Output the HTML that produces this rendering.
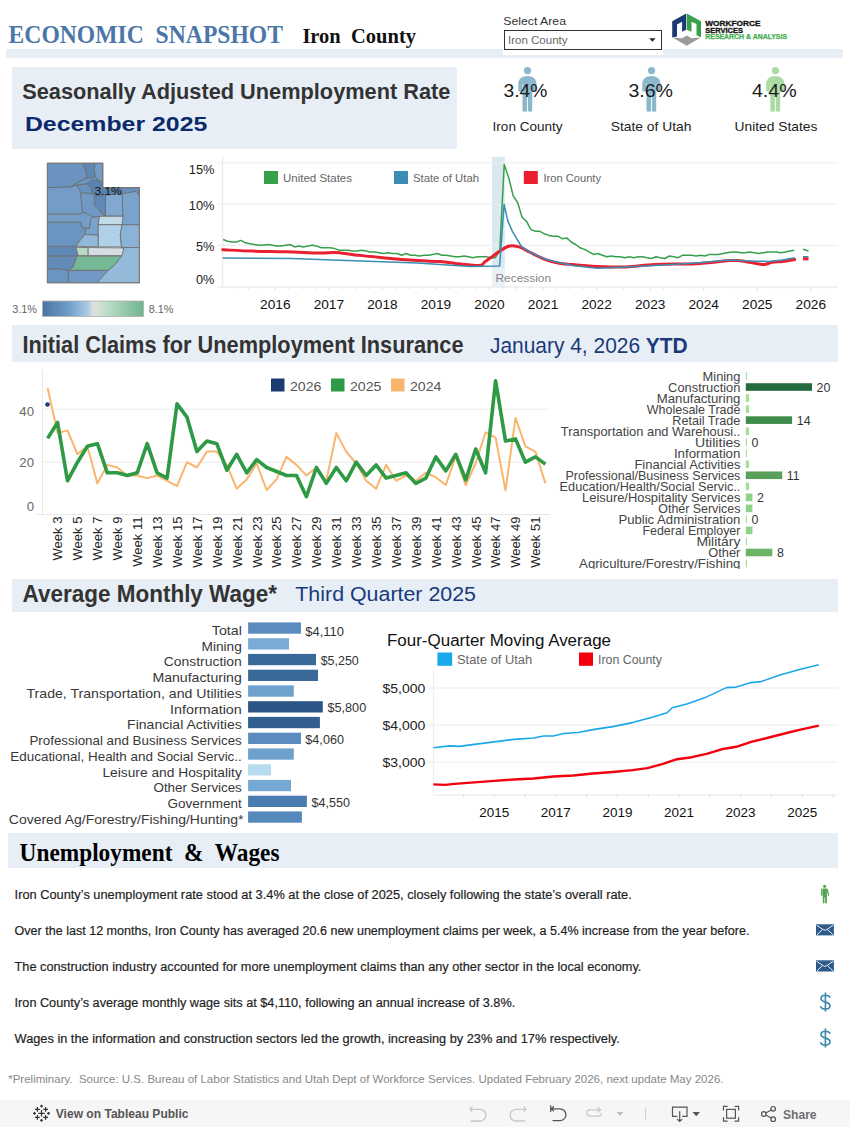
<!DOCTYPE html>
<html><head><meta charset="utf-8">
<style>
*{margin:0;padding:0}
html,body{width:850px;height:1127px;overflow:hidden;background:#fff;font-family:"Liberation Sans",sans-serif}
svg{position:absolute;left:0;top:0;display:block}
</style></head><body>
<svg width="850" height="1127" viewBox="0 0 850 1127">
<rect x="0" y="0" width="850" height="1127" fill="#ffffff" />
<text x="8.6" y="43" font-family="'Liberation Serif', serif" font-size="24.2" fill="#4a77a8" font-weight="bold" text-anchor="start" textLength="274.4" lengthAdjust="spacingAndGlyphs" xml:space="preserve">ECONOMIC  SNAPSHOT</text>
<text x="302.4" y="43" font-family="'Liberation Serif', serif" font-size="21.7" fill="#111111" font-weight="bold" text-anchor="start" textLength="113.6" lengthAdjust="spacingAndGlyphs" xml:space="preserve">Iron  County</text>
<rect x="6" y="49" width="837" height="9" fill="#e7eef6" />
<rect x="503" y="49" width="160" height="6" fill="#ffffff" />
<text x="503.2" y="24.9" font-family="'Liberation Sans', sans-serif" font-size="11.6" fill="#333333" font-weight="normal" text-anchor="start" textLength="62.8" lengthAdjust="spacingAndGlyphs" >Select Area</text>
<rect x="504.5" y="30.5" width="157" height="19" fill="#ffffff" stroke="#333" stroke-width="1"/>
<text x="508" y="44" font-family="'Liberation Sans', sans-serif" font-size="11.5" fill="#666666" font-weight="normal" text-anchor="start" textLength="59.5" lengthAdjust="spacingAndGlyphs" >Iron County</text>
<path d="M649.2 38.3 L655.6 38.3 L652.4 41.8 Z" stroke="none" stroke-width="0" fill="#222" />
<g transform="translate(668,10)"><polygon points="4.2,11.3 18.2,3.5 18.2,19.8 14.1,21.8 14.1,11.8 9,14.5 9,26.5 4.2,27.5" fill="#1b3a73"/><polygon points="18.8,3.5 33,11.3 33,27.3 28.5,25.3 28.5,14 23.5,11.8 23.5,21.8 18.8,19.8" fill="#37a04a"/><polygon points="4.5,27.6 14.1,28.2 18.8,25.4 23.5,28.2 32.7,27.6 18.8,35.8" fill="#9b9b9b"/></g>
<text x="705.3" y="25.9" font-family="'Liberation Sans', sans-serif" font-size="7.2" fill="#111111" font-weight="bold" text-anchor="start" textLength="55.3" lengthAdjust="spacingAndGlyphs" stroke="#111" stroke-width="0.3">WORKFORCE</text>
<text x="705.3" y="32.6" font-family="'Liberation Sans', sans-serif" font-size="7.2" fill="#111111" font-weight="bold" text-anchor="start" textLength="37.7" lengthAdjust="spacingAndGlyphs" stroke="#111" stroke-width="0.3">SERVICES</text>
<text x="705.3" y="39.3" font-family="'Liberation Sans', sans-serif" font-size="7.0" fill="#3fae4f" font-weight="bold" text-anchor="start" textLength="81.7" lengthAdjust="spacingAndGlyphs" stroke="#3fae4f" stroke-width="0.25">RESEARCH &amp; ANALYSIS</text>
<rect x="12" y="67" width="445" height="82" fill="#e7eef6" />
<text x="22.2" y="99" font-family="'Liberation Sans', sans-serif" font-size="21.9" fill="#333333" font-weight="bold" text-anchor="start" textLength="428.2" lengthAdjust="spacingAndGlyphs" >Seasonally Adjusted Unemployment Rate</text>
<text x="24.9" y="131" font-family="'Liberation Sans', sans-serif" font-size="21" fill="#0c2a6a" font-weight="bold" text-anchor="start" textLength="182.4" lengthAdjust="spacingAndGlyphs" >December 2025</text>
<g fill="#8cb8cd"><circle cx="527.55" cy="70.6" r="3.6"/><path d="M518.25 90.2 V84 C518.25 79 522.15 76.1 527.4 76.1 C532.65 76.1 536.55 79 536.55 84 V90.2 Q536.55 91.4 535.35 91.4 H532.25 V110.3 Q532.25 111.8 530.15 111.8 Q527.95 111.8 527.95 110.3 V94 H527.05 V110.3 Q527.05 111.8 524.75 111.8 Q522.45 111.8 522.45 110.3 V91.4 H519.45 Q518.25 91.4 518.25 90.2 Z"/><path d="M522.45 83.5 V91.4 M532.25 83.5 V91.4" stroke="#ffffff" stroke-width="0.5" stroke-opacity="0.7"/></g>
<g fill="#8cb8cd"><circle cx="651.55" cy="70.6" r="3.6"/><path d="M642.25 90.2 V84 C642.25 79 646.15 76.1 651.4 76.1 C656.65 76.1 660.55 79 660.55 84 V90.2 Q660.55 91.4 659.35 91.4 H656.25 V110.3 Q656.25 111.8 654.15 111.8 Q651.95 111.8 651.95 110.3 V94 H651.05 V110.3 Q651.05 111.8 648.75 111.8 Q646.45 111.8 646.45 110.3 V91.4 H643.45 Q642.25 91.4 642.25 90.2 Z"/><path d="M646.45 83.5 V91.4 M656.25 83.5 V91.4" stroke="#ffffff" stroke-width="0.5" stroke-opacity="0.7"/></g>
<g fill="#a9dca4"><circle cx="775.45" cy="70.6" r="3.6"/><path d="M766.15 90.2 V84 C766.15 79 770.05 76.1 775.3 76.1 C780.55 76.1 784.45 79 784.45 84 V90.2 Q784.45 91.4 783.25 91.4 H780.15 V110.3 Q780.15 111.8 778.05 111.8 Q775.85 111.8 775.85 110.3 V94 H774.95 V110.3 Q774.95 111.8 772.65 111.8 Q770.35 111.8 770.35 110.3 V91.4 H767.35 Q766.15 91.4 766.15 90.2 Z"/><path d="M770.35 83.5 V91.4 M780.15 83.5 V91.4" stroke="#ffffff" stroke-width="0.5" stroke-opacity="0.7"/></g>
<text x="525.5" y="97" font-family="'Liberation Sans', sans-serif" font-size="18.9" fill="#1a1a1a" font-weight="normal" text-anchor="middle" textLength="43.8" lengthAdjust="spacingAndGlyphs" >3.4%</text>
<text x="650.7" y="97" font-family="'Liberation Sans', sans-serif" font-size="18.9" fill="#1a1a1a" font-weight="normal" text-anchor="middle" textLength="44.6" lengthAdjust="spacingAndGlyphs" >3.6%</text>
<text x="774.3" y="97" font-family="'Liberation Sans', sans-serif" font-size="18.9" fill="#1a1a1a" font-weight="normal" text-anchor="middle" textLength="44.7" lengthAdjust="spacingAndGlyphs" >4.4%</text>
<text x="527.6" y="131" font-family="'Liberation Sans', sans-serif" font-size="12.6" fill="#222222" font-weight="normal" text-anchor="middle" textLength="70" lengthAdjust="spacingAndGlyphs" >Iron County</text>
<text x="651.1" y="131" font-family="'Liberation Sans', sans-serif" font-size="12.6" fill="#222222" font-weight="normal" text-anchor="middle" textLength="80.7" lengthAdjust="spacingAndGlyphs" >State of Utah</text>
<text x="775.9" y="131" font-family="'Liberation Sans', sans-serif" font-size="12.6" fill="#222222" font-weight="normal" text-anchor="middle" textLength="82.8" lengthAdjust="spacingAndGlyphs" >United States</text>
<rect x="12" y="325" width="826" height="37" fill="#e7eef6" />
<rect x="12" y="579" width="826" height="33" fill="#e7eef6" />
<rect x="8" y="833" width="830" height="35" fill="#e7eef6" />
<rect x="0" y="1100" width="850" height="27" fill="#f6f6f6" />
<g transform="translate(40,158) scale(0.12353)">
<polygon points="60,42 350,42 380,130 370,165 300,200 250,235 60,240" fill="#6a93c0" stroke="#6e6e6e" stroke-width="7" stroke-linejoin="round"/>
<polygon points="350,42 445,42 440,100 450,150 400,165 370,165 380,130" fill="#5d87b6" stroke="#6e6e6e" stroke-width="7" stroke-linejoin="round"/>
<polygon points="445,42 508,42 508,200 470,180 450,150 440,100" fill="#729cc6" stroke="#6e6e6e" stroke-width="7" stroke-linejoin="round"/>
<polygon points="250,235 300,200 370,165 400,165 450,150 470,180 420,180 380,210 300,220" fill="#6b95c1" stroke="#6e6e6e" stroke-width="7" stroke-linejoin="round"/>
<polygon points="60,240 250,235 300,220 330,280 335,340 345,440 320,455 60,455" fill="#739cc7" stroke="#6e6e6e" stroke-width="7" stroke-linejoin="round"/>
<polygon points="300,220 380,210 420,240 420,290 330,280" fill="#6892bf" stroke="#6e6e6e" stroke-width="7" stroke-linejoin="round"/>
<polygon points="420,180 470,180 508,200 508,240 665,240 665,290 530,300 440,310 420,290 420,240 380,210" fill="#5a83b2" stroke="#6e6e6e" stroke-width="7" stroke-linejoin="round"/>
<polygon points="665,240 805,240 805,310 780,270 665,290" fill="#6890bd" stroke="#6e6e6e" stroke-width="7" stroke-linejoin="round"/>
<polygon points="665,290 780,270 805,310 805,540 665,540 670,470" fill="#7aa3cb" stroke="#6e6e6e" stroke-width="7" stroke-linejoin="round"/>
<polygon points="530,300 665,290 670,470 530,470" fill="#80a8d0" stroke="#6e6e6e" stroke-width="7" stroke-linejoin="round"/>
<polygon points="440,310 530,300 530,470 500,450 440,380" fill="#5f89b8" stroke="#6e6e6e" stroke-width="7" stroke-linejoin="round"/>
<polygon points="330,280 420,290 440,310 440,380 500,450 530,470 430,480 390,455 345,440 335,340" fill="#7099c5" stroke="#6e6e6e" stroke-width="7" stroke-linejoin="round"/>
<polygon points="60,455 320,455 345,440 390,455 430,480 410,500 400,570 340,560 330,520 60,520" fill="#749dc8" stroke="#6e6e6e" stroke-width="7" stroke-linejoin="round"/>
<polygon points="480,472 672,472 665,540 470,540" fill="#c4dcea" stroke="#6e6e6e" stroke-width="7" stroke-linejoin="round"/>
<polygon points="470,540 665,540 650,620 660,720 470,720" fill="#b0d0e8" stroke="#6e6e6e" stroke-width="7" stroke-linejoin="round"/>
<polygon points="665,540 805,540 805,725 660,725 650,620" fill="#8bb3d7" stroke="#6e6e6e" stroke-width="7" stroke-linejoin="round"/>
<polygon points="430,480 480,472 470,540 470,625 365,620 370,570 400,570 410,500" fill="#7aa3cc" stroke="#6e6e6e" stroke-width="7" stroke-linejoin="round"/>
<polygon points="60,520 330,520 340,560 370,570 365,620 330,660 290,715 60,715" fill="#6b95c1" stroke="#6e6e6e" stroke-width="7" stroke-linejoin="round"/>
<polygon points="365,620 470,625 470,720 290,715 330,660" fill="#93b8da" stroke="#6e6e6e" stroke-width="7" stroke-linejoin="round"/>
<polygon points="60,715 290,715 310,795 60,795" fill="#5f88b6" stroke="#6e6e6e" stroke-width="7" stroke-linejoin="round"/>
<polygon points="290,725 390,725 390,790 310,790" fill="#b8d9c2" stroke="#6e6e6e" stroke-width="7" stroke-linejoin="round"/>
<polygon points="390,725 680,728 670,790 390,790" fill="#d5dee5" stroke="#6e6e6e" stroke-width="7" stroke-linejoin="round"/>
<polygon points="60,795 300,795 270,880 230,910 150,900 60,900" fill="#628bb8" stroke="#6e6e6e" stroke-width="7" stroke-linejoin="round"/>
<polygon points="300,795 660,795 600,870 550,910 230,910 270,880" fill="#74b896" stroke="#6e6e6e" stroke-width="7" stroke-linejoin="round"/>
<polygon points="660,725 805,725 805,1010 460,1010 550,910 600,870 660,795 680,728" fill="#93bad9" stroke="#6e6e6e" stroke-width="7" stroke-linejoin="round"/>
<polygon points="60,900 150,900 230,910 230,1010 60,1010" fill="#6b95c1" stroke="#6e6e6e" stroke-width="7" stroke-linejoin="round"/>
<polygon points="230,910 550,910 460,1010 230,1010" fill="#709ac5" stroke="#6e6e6e" stroke-width="7" stroke-linejoin="round"/>
<polygon points="60,42 508,42 508,240 805,240 805,1010 60,1010" fill="none" stroke="#777" stroke-width="9"/>
</g>
<text x="94.4" y="194.7" font-family="'Liberation Sans', sans-serif" font-size="11.2" fill="#111111" font-weight="normal" text-anchor="start" textLength="27.4" lengthAdjust="spacingAndGlyphs" >3.1%</text>
<defs><linearGradient id="lg" x1="0" x2="1" y1="0" y2="0"><stop offset="0" stop-color="#4c73a3"/><stop offset="0.25" stop-color="#6e9bc8"/><stop offset="0.45" stop-color="#a9cbe6"/><stop offset="0.5" stop-color="#e0e0e0"/><stop offset="0.6" stop-color="#c6e0cf"/><stop offset="1" stop-color="#6db68d"/></linearGradient></defs>
<rect x="42.5" y="301" width="101" height="15.4" fill="url(#lg)" stroke="#b5b0a5" stroke-width="0.8"/>
<text x="12.2" y="313.4" font-family="'Liberation Sans', sans-serif" font-size="10.8" fill="#666666" font-weight="normal" text-anchor="start" textLength="24.8" lengthAdjust="spacingAndGlyphs" >3.1%</text>
<text x="148.7" y="313.4" font-family="'Liberation Sans', sans-serif" font-size="10.8" fill="#666666" font-weight="normal" text-anchor="start" textLength="24.9" lengthAdjust="spacingAndGlyphs" >8.1%</text>
<rect x="492" y="156.8" width="12.8" height="130" fill="#dce8f0" />
<rect x="492" y="267.7" width="12.8" height="19.3" fill="#e9f1f6" />
<path d="M217 245.3 H838" stroke="#ececec" stroke-width="1" fill="none" />
<path d="M217 204.1 H838" stroke="#ececec" stroke-width="1" fill="none" />
<path d="M217 162.9 H838" stroke="#ececec" stroke-width="1" fill="none" />
<path d="M222.7 156.8 V287" stroke="#e6e6e6" stroke-width="1" fill="none" />
<path d="M217 287 H838" stroke="#e6e6e6" stroke-width="1" fill="none" />
<path d="M235.1 287 V289" stroke="#dddddd" stroke-width="1" fill="none" />
<path d="M248.5 287 V289" stroke="#dddddd" stroke-width="1" fill="none" />
<path d="M261.9 287 V289" stroke="#dddddd" stroke-width="1" fill="none" />
<path d="M275.3 287 V290.5" stroke="#dddddd" stroke-width="1" fill="none" />
<path d="M288.7 287 V289" stroke="#dddddd" stroke-width="1" fill="none" />
<path d="M302.1 287 V289" stroke="#dddddd" stroke-width="1" fill="none" />
<path d="M315.5 287 V289" stroke="#dddddd" stroke-width="1" fill="none" />
<path d="M328.9 287 V290.5" stroke="#dddddd" stroke-width="1" fill="none" />
<path d="M342.2 287 V289" stroke="#dddddd" stroke-width="1" fill="none" />
<path d="M355.6 287 V289" stroke="#dddddd" stroke-width="1" fill="none" />
<path d="M369.0 287 V289" stroke="#dddddd" stroke-width="1" fill="none" />
<path d="M382.4 287 V290.5" stroke="#dddddd" stroke-width="1" fill="none" />
<path d="M395.8 287 V289" stroke="#dddddd" stroke-width="1" fill="none" />
<path d="M409.2 287 V289" stroke="#dddddd" stroke-width="1" fill="none" />
<path d="M422.6 287 V289" stroke="#dddddd" stroke-width="1" fill="none" />
<path d="M435.9 287 V290.5" stroke="#dddddd" stroke-width="1" fill="none" />
<path d="M449.3 287 V289" stroke="#dddddd" stroke-width="1" fill="none" />
<path d="M462.7 287 V289" stroke="#dddddd" stroke-width="1" fill="none" />
<path d="M476.1 287 V289" stroke="#dddddd" stroke-width="1" fill="none" />
<path d="M489.5 287 V290.5" stroke="#dddddd" stroke-width="1" fill="none" />
<path d="M502.9 287 V289" stroke="#dddddd" stroke-width="1" fill="none" />
<path d="M516.3 287 V289" stroke="#dddddd" stroke-width="1" fill="none" />
<path d="M529.7 287 V289" stroke="#dddddd" stroke-width="1" fill="none" />
<path d="M543.0 287 V290.5" stroke="#dddddd" stroke-width="1" fill="none" />
<path d="M556.4 287 V289" stroke="#dddddd" stroke-width="1" fill="none" />
<path d="M569.8 287 V289" stroke="#dddddd" stroke-width="1" fill="none" />
<path d="M583.2 287 V289" stroke="#dddddd" stroke-width="1" fill="none" />
<path d="M596.6 287 V290.5" stroke="#dddddd" stroke-width="1" fill="none" />
<path d="M610.0 287 V289" stroke="#dddddd" stroke-width="1" fill="none" />
<path d="M623.4 287 V289" stroke="#dddddd" stroke-width="1" fill="none" />
<path d="M636.8 287 V289" stroke="#dddddd" stroke-width="1" fill="none" />
<path d="M650.1 287 V290.5" stroke="#dddddd" stroke-width="1" fill="none" />
<path d="M663.5 287 V289" stroke="#dddddd" stroke-width="1" fill="none" />
<path d="M676.9 287 V289" stroke="#dddddd" stroke-width="1" fill="none" />
<path d="M690.3 287 V289" stroke="#dddddd" stroke-width="1" fill="none" />
<path d="M703.7 287 V290.5" stroke="#dddddd" stroke-width="1" fill="none" />
<path d="M717.1 287 V289" stroke="#dddddd" stroke-width="1" fill="none" />
<path d="M730.5 287 V289" stroke="#dddddd" stroke-width="1" fill="none" />
<path d="M743.9 287 V289" stroke="#dddddd" stroke-width="1" fill="none" />
<path d="M757.2 287 V290.5" stroke="#dddddd" stroke-width="1" fill="none" />
<path d="M770.6 287 V289" stroke="#dddddd" stroke-width="1" fill="none" />
<path d="M784.0 287 V289" stroke="#dddddd" stroke-width="1" fill="none" />
<path d="M797.4 287 V289" stroke="#dddddd" stroke-width="1" fill="none" />
<path d="M810.8 287 V290.5" stroke="#dddddd" stroke-width="1" fill="none" />
<path d="M824.2 287 V289" stroke="#dddddd" stroke-width="1" fill="none" />
<text x="214.4" y="173.5" font-family="'Liberation Sans', sans-serif" font-size="12.8" fill="#222222" font-weight="normal" text-anchor="end" >15%</text>
<text x="214.4" y="210.4" font-family="'Liberation Sans', sans-serif" font-size="12.8" fill="#222222" font-weight="normal" text-anchor="end" >10%</text>
<text x="214.4" y="251.1" font-family="'Liberation Sans', sans-serif" font-size="12.8" fill="#222222" font-weight="normal" text-anchor="end" >5%</text>
<text x="214.4" y="283.6" font-family="'Liberation Sans', sans-serif" font-size="12.8" fill="#222222" font-weight="normal" text-anchor="end" >0%</text>
<text x="275.3" y="309.2" font-family="'Liberation Sans', sans-serif" font-size="13.4" fill="#111111" font-weight="normal" text-anchor="middle" textLength="30.4" lengthAdjust="spacingAndGlyphs" >2016</text>
<text x="328.85" y="309.2" font-family="'Liberation Sans', sans-serif" font-size="13.4" fill="#111111" font-weight="normal" text-anchor="middle" textLength="30.4" lengthAdjust="spacingAndGlyphs" >2017</text>
<text x="382.4" y="309.2" font-family="'Liberation Sans', sans-serif" font-size="13.4" fill="#111111" font-weight="normal" text-anchor="middle" textLength="30.4" lengthAdjust="spacingAndGlyphs" >2018</text>
<text x="435.95" y="309.2" font-family="'Liberation Sans', sans-serif" font-size="13.4" fill="#111111" font-weight="normal" text-anchor="middle" textLength="30.4" lengthAdjust="spacingAndGlyphs" >2019</text>
<text x="489.5" y="309.2" font-family="'Liberation Sans', sans-serif" font-size="13.4" fill="#111111" font-weight="normal" text-anchor="middle" textLength="30.4" lengthAdjust="spacingAndGlyphs" >2020</text>
<text x="543.05" y="309.2" font-family="'Liberation Sans', sans-serif" font-size="13.4" fill="#111111" font-weight="normal" text-anchor="middle" textLength="30.4" lengthAdjust="spacingAndGlyphs" >2021</text>
<text x="596.5999999999999" y="309.2" font-family="'Liberation Sans', sans-serif" font-size="13.4" fill="#111111" font-weight="normal" text-anchor="middle" textLength="30.4" lengthAdjust="spacingAndGlyphs" >2022</text>
<text x="650.15" y="309.2" font-family="'Liberation Sans', sans-serif" font-size="13.4" fill="#111111" font-weight="normal" text-anchor="middle" textLength="30.4" lengthAdjust="spacingAndGlyphs" >2023</text>
<text x="703.7" y="309.2" font-family="'Liberation Sans', sans-serif" font-size="13.4" fill="#111111" font-weight="normal" text-anchor="middle" textLength="30.4" lengthAdjust="spacingAndGlyphs" >2024</text>
<text x="757.25" y="309.2" font-family="'Liberation Sans', sans-serif" font-size="13.4" fill="#111111" font-weight="normal" text-anchor="middle" textLength="30.4" lengthAdjust="spacingAndGlyphs" >2025</text>
<text x="810.8" y="309.2" font-family="'Liberation Sans', sans-serif" font-size="13.4" fill="#111111" font-weight="normal" text-anchor="middle" textLength="30.4" lengthAdjust="spacingAndGlyphs" >2026</text>
<rect x="264" y="171" width="14" height="13" fill="#37a04a" />
<text x="283" y="181.8" font-family="'Liberation Sans', sans-serif" font-size="11.3" fill="#666666" font-weight="normal" text-anchor="start" textLength="69" lengthAdjust="spacingAndGlyphs" >United States</text>
<rect x="394" y="171" width="14" height="13" fill="#3a8db3" />
<text x="413" y="181.8" font-family="'Liberation Sans', sans-serif" font-size="11.3" fill="#666666" font-weight="normal" text-anchor="start" textLength="66" lengthAdjust="spacingAndGlyphs" >State of Utah</text>
<rect x="523.8" y="171" width="14" height="13" fill="#e8202f" />
<text x="543.5" y="181.8" font-family="'Liberation Sans', sans-serif" font-size="11.3" fill="#666666" font-weight="normal" text-anchor="start" textLength="57.5" lengthAdjust="spacingAndGlyphs" >Iron County</text>
<text x="495.5" y="281.8" font-family="'Liberation Sans', sans-serif" font-size="11.3" fill="#858585" font-weight="normal" text-anchor="start" textLength="55.5" lengthAdjust="spacingAndGlyphs" >Recession</text>
<path d="M223.1 239.5 L227.6 241.2 L232.0 242.0 L236.5 242.0 L240.9 240.4 L245.4 242.8 L249.9 243.7 L254.3 244.5 L258.8 245.3 L263.3 245.3 L267.7 244.5 L272.2 245.3 L276.6 246.1 L281.1 246.1 L285.6 245.3 L290.0 244.5 L294.5 246.9 L299.0 246.1 L303.4 246.9 L307.9 246.1 L312.3 245.3 L316.8 246.1 L321.3 247.8 L325.7 247.8 L330.2 247.8 L334.7 248.6 L339.1 250.2 L343.6 250.2 L348.0 250.2 L352.5 251.1 L357.0 251.1 L361.4 250.2 L365.9 251.1 L370.4 251.9 L374.8 251.9 L379.3 252.7 L383.7 253.5 L388.2 252.7 L392.7 253.5 L397.1 253.5 L401.6 255.2 L406.1 253.5 L410.5 255.2 L415.0 255.2 L419.4 256.0 L423.9 255.2 L428.4 255.2 L432.8 254.4 L437.3 253.5 L441.8 255.2 L446.2 255.2 L450.7 256.0 L455.1 256.8 L459.6 256.8 L464.1 256.0 L468.5 256.8 L473.0 257.7 L477.5 256.8 L481.9 256.8 L486.4 256.8 L490.8 257.7 L495.3 257.7 L499.8 250.2 L504.2 164.5 L508.7 177.7 L513.2 195.9 L517.6 202.5 L522.1 217.3 L526.5 221.4 L531.0 229.6 L535.5 231.3 L539.9 231.3 L544.4 233.8 L548.9 235.4 L553.3 236.2 L557.8 236.2 L562.2 238.7 L566.7 237.9 L571.2 242.0 L575.6 244.5 L580.1 247.8 L584.6 249.4 L589.0 251.9 L593.5 254.4 L597.9 253.5 L602.4 255.2 L606.9 256.8 L611.3 256.0 L615.8 256.8 L620.3 256.8 L624.7 257.7 L629.2 256.8 L633.6 257.7 L638.1 256.8 L642.6 256.8 L647.0 257.7 L651.5 258.5 L656.0 256.8 L660.4 257.7 L664.9 258.5 L669.3 256.0 L673.8 256.8 L678.3 257.7 L682.7 255.2 L687.2 255.2 L691.7 255.2 L696.1 256.0 L700.6 255.2 L705.0 256.0 L709.5 254.4 L714.0 254.4 L718.4 254.4 L722.9 253.5 L727.4 252.7 L731.8 251.9 L736.3 251.9 L740.7 252.7 L745.2 252.7 L749.7 251.9 L754.1 252.7 L758.6 253.5 L763.1 252.7 L767.5 251.9 L772.0 251.9 L776.4 251.9 L780.9 252.7 L785.4 251.9 L789.8 251.1 L794.3 250.2" stroke="#37a04a" stroke-width="1.5" fill="none" stroke-linejoin="round"/>
<path d="M222.7 249.8 C227.7 250.0 242.4 250.8 252.9 251.1 C263.4 251.4 274.9 251.4 285.9 251.7 C296.9 252.0 310.6 252.8 318.8 253.0 C327.0 253.2 329.8 252.4 335.3 252.6 C340.8 252.8 343.6 253.5 351.8 254.4 C360.0 255.3 373.7 257.0 384.7 258.0 C395.7 259.0 408.4 260.0 417.6 260.6 C426.8 261.2 433.8 261.1 440.0 261.6 C446.2 262.1 450.0 262.8 455.0 263.4 C460.0 264.0 465.9 264.8 470.2 265.1 C474.5 265.4 478.2 265.9 480.7 265.3 C483.2 264.7 483.2 263.1 485.2 261.6 C487.2 260.1 490.3 258.1 492.8 256.3 C495.3 254.5 497.8 252.3 500.3 250.7 C502.8 249.1 505.8 247.3 507.8 246.5 C509.8 245.7 510.4 245.6 512.4 245.7 C514.4 245.8 516.9 246.1 519.9 247.2 C522.9 248.3 526.2 250.4 530.5 252.5 C534.8 254.6 540.7 257.8 545.5 259.6 C550.3 261.4 554.6 262.4 559.1 263.2 C563.6 264.0 566.1 264.1 572.4 264.6 C578.7 265.2 588.2 266.1 597.1 266.5 C606.0 266.9 616.3 267.3 625.9 267.0 C635.5 266.7 643.0 265.1 654.7 264.5 C666.4 263.9 683.6 264.3 696.0 263.7 C708.4 263.1 721.7 261.1 729.0 260.6 C736.3 260.1 735.2 260.3 740.0 260.8 C744.8 261.3 753.5 263.2 757.6 263.8 C761.7 264.4 762.1 264.8 764.5 264.5 C766.9 264.2 769.0 262.8 772.0 262.3 C775.0 261.8 778.8 261.9 782.6 261.5 C786.4 261.1 792.7 259.9 794.7 259.6" stroke="#e8202f" stroke-width="3" fill="none" stroke-linejoin="round" stroke-linecap="round"/>
<path d="M222.7 258.0 L292.0 258.4 L318.8 259.6 L368.2 261.2 L417.6 263.0 L440.0 264.6 L470.2 266.6 L499.6 266.1 L504.1 204.3 L507.8 220.9 L512.4 231.4 L521.4 246.5 L530.5 252.5 L545.5 259.3 L560.0 262.8 L572.4 265.4 L597.1 268.2 L625.9 267.0 L654.7 265.4 L696.0 262.9 L729.0 260.0 L757.6 261.2 L769.0 261.5 L782.6 260.0 L794.7 257.7" stroke="#3a8db3" stroke-width="1.5" fill="none" stroke-linejoin="round"/>
<path d="M803 249.3 L808.5 251" stroke="#37a04a" stroke-width="1.5" fill="none" />
<path d="M803 256.8 H808.5" stroke="#3a8db3" stroke-width="1.6" fill="none" />
<path d="M803 258.9 H808.5" stroke="#e8202f" stroke-width="3" fill="none" />
<text x="22.4" y="352.9" font-family="'Liberation Sans', sans-serif" font-size="23.6" fill="#333333" font-weight="bold" text-anchor="start" textLength="441.1" lengthAdjust="spacingAndGlyphs" >Initial Claims for Unemployment Insurance</text>
<text x="490" y="353.2" font-family="'Liberation Sans', sans-serif" font-size="21.6" fill="#1a3a7a" textLength="197.7" lengthAdjust="spacingAndGlyphs">January 4, 2026 <tspan font-weight="bold">YTD</tspan></text>
<path d="M42.4 369.7 V514.5" stroke="#e6e6e6" stroke-width="1" fill="none" />
<path d="M37 514.5 H550" stroke="#e6e6e6" stroke-width="1" fill="none" />
<path d="M42.4 462.2 H550" stroke="#ececec" stroke-width="1" fill="none" />
<path d="M42.4 409.2 H550" stroke="#ececec" stroke-width="1" fill="none" />
<text x="34" y="415.59999999999997" font-family="'Liberation Sans', sans-serif" font-size="13.2" fill="#666666" font-weight="normal" text-anchor="end" >40</text>
<text x="34" y="467.4" font-family="'Liberation Sans', sans-serif" font-size="13.2" fill="#666666" font-weight="normal" text-anchor="end" >20</text>
<text x="34" y="510.9" font-family="'Liberation Sans', sans-serif" font-size="13.2" fill="#666666" font-weight="normal" text-anchor="end" >0</text>
<path d="M47.6 388.0 L57.6 433.1 L67.5 430.4 L77.5 454.3 L87.4 446.3 L97.4 483.4 L107.3 464.9 L117.3 467.5 L127.2 475.5 L137.2 475.5 L147.2 478.1 L157.1 475.5 L167.1 480.8 L177.0 486.1 L187.0 462.2 L196.9 467.5 L206.9 451.6 L216.8 451.6 L226.8 464.9 L236.7 488.7 L246.7 479.4 L256.7 463.5 L266.6 490.0 L276.6 479.4 L286.5 456.9 L296.5 464.9 L306.4 475.5 L316.4 467.5 L326.3 480.8 L336.3 433.1 L346.2 451.6 L356.2 463.5 L366.2 480.8 L376.1 488.7 L386.1 464.9 L396.0 480.8 L406.0 475.5 L415.9 480.8 L425.9 472.8 L435.8 477.3 L445.8 485.0 L455.8 456.1 L465.7 485.3 L475.7 463.0 L485.6 432.3 L495.6 437.6 L505.5 490.6 L515.5 417.9 L525.4 446.3 L535.4 451.6 L545.4 483.4" stroke="#f9b56e" stroke-width="2" fill="none" stroke-linejoin="round"/>
<path d="M47.6 438.4 L57.6 422.5 L67.5 480.8 L77.5 462.2 L87.4 446.3 L97.4 443.7 L107.3 472.8 L117.3 472.8 L127.2 475.5 L137.2 472.8 L147.2 443.7 L157.1 472.8 L167.1 478.1 L177.0 403.9 L187.0 417.2 L196.9 451.6 L206.9 441.0 L216.8 443.7 L226.8 470.2 L236.7 454.3 L246.7 472.8 L256.7 459.6 L266.6 467.5 L276.6 471.5 L286.5 475.5 L296.5 475.5 L306.4 496.7 L316.4 467.5 L326.3 483.4 L336.3 467.5 L346.2 480.8 L356.2 462.2 L366.2 475.5 L376.1 464.9 L386.1 478.1 L396.0 475.5 L406.0 472.8 L415.9 483.4 L425.9 478.1 L435.8 456.9 L445.8 470.9 L455.8 454.3 L465.7 480.0 L475.7 449.0 L485.6 472.8 L495.6 380.8 L505.5 441.0 L515.5 438.9 L525.4 462.2 L535.4 456.9 L545.4 464.1" stroke="#2f9a46" stroke-width="3.6" fill="none" stroke-linejoin="round"/>
<circle cx="47.5" cy="404.5" r="2.3" fill="#1b3a73"/>
<text transform="translate(62.4,516.6) rotate(-90)" font-family="'Liberation Sans', sans-serif" font-size="13" fill="#222222" text-anchor="end">Week 3</text>
<text transform="translate(82.3,516.6) rotate(-90)" font-family="'Liberation Sans', sans-serif" font-size="13" fill="#222222" text-anchor="end">Week 5</text>
<text transform="translate(102.2,516.6) rotate(-90)" font-family="'Liberation Sans', sans-serif" font-size="13" fill="#222222" text-anchor="end">Week 7</text>
<text transform="translate(122.1,516.6) rotate(-90)" font-family="'Liberation Sans', sans-serif" font-size="13" fill="#222222" text-anchor="end">Week 9</text>
<text transform="translate(142.0,516.6) rotate(-90)" font-family="'Liberation Sans', sans-serif" font-size="13" fill="#222222" text-anchor="end">Week 11</text>
<text transform="translate(161.9,516.6) rotate(-90)" font-family="'Liberation Sans', sans-serif" font-size="13" fill="#222222" text-anchor="end">Week 13</text>
<text transform="translate(181.8,516.6) rotate(-90)" font-family="'Liberation Sans', sans-serif" font-size="13" fill="#222222" text-anchor="end">Week 15</text>
<text transform="translate(201.7,516.6) rotate(-90)" font-family="'Liberation Sans', sans-serif" font-size="13" fill="#222222" text-anchor="end">Week 17</text>
<text transform="translate(221.6,516.6) rotate(-90)" font-family="'Liberation Sans', sans-serif" font-size="13" fill="#222222" text-anchor="end">Week 19</text>
<text transform="translate(241.5,516.6) rotate(-90)" font-family="'Liberation Sans', sans-serif" font-size="13" fill="#222222" text-anchor="end">Week 21</text>
<text transform="translate(261.5,516.6) rotate(-90)" font-family="'Liberation Sans', sans-serif" font-size="13" fill="#222222" text-anchor="end">Week 23</text>
<text transform="translate(281.4,516.6) rotate(-90)" font-family="'Liberation Sans', sans-serif" font-size="13" fill="#222222" text-anchor="end">Week 25</text>
<text transform="translate(301.3,516.6) rotate(-90)" font-family="'Liberation Sans', sans-serif" font-size="13" fill="#222222" text-anchor="end">Week 27</text>
<text transform="translate(321.2,516.6) rotate(-90)" font-family="'Liberation Sans', sans-serif" font-size="13" fill="#222222" text-anchor="end">Week 29</text>
<text transform="translate(341.1,516.6) rotate(-90)" font-family="'Liberation Sans', sans-serif" font-size="13" fill="#222222" text-anchor="end">Week 31</text>
<text transform="translate(361.0,516.6) rotate(-90)" font-family="'Liberation Sans', sans-serif" font-size="13" fill="#222222" text-anchor="end">Week 33</text>
<text transform="translate(380.9,516.6) rotate(-90)" font-family="'Liberation Sans', sans-serif" font-size="13" fill="#222222" text-anchor="end">Week 35</text>
<text transform="translate(400.8,516.6) rotate(-90)" font-family="'Liberation Sans', sans-serif" font-size="13" fill="#222222" text-anchor="end">Week 37</text>
<text transform="translate(420.7,516.6) rotate(-90)" font-family="'Liberation Sans', sans-serif" font-size="13" fill="#222222" text-anchor="end">Week 39</text>
<text transform="translate(440.6,516.6) rotate(-90)" font-family="'Liberation Sans', sans-serif" font-size="13" fill="#222222" text-anchor="end">Week 41</text>
<text transform="translate(460.6,516.6) rotate(-90)" font-family="'Liberation Sans', sans-serif" font-size="13" fill="#222222" text-anchor="end">Week 43</text>
<text transform="translate(480.5,516.6) rotate(-90)" font-family="'Liberation Sans', sans-serif" font-size="13" fill="#222222" text-anchor="end">Week 45</text>
<text transform="translate(500.4,516.6) rotate(-90)" font-family="'Liberation Sans', sans-serif" font-size="13" fill="#222222" text-anchor="end">Week 47</text>
<text transform="translate(520.3,516.6) rotate(-90)" font-family="'Liberation Sans', sans-serif" font-size="13" fill="#222222" text-anchor="end">Week 49</text>
<text transform="translate(540.2,516.6) rotate(-90)" font-family="'Liberation Sans', sans-serif" font-size="13" fill="#222222" text-anchor="end">Week 51</text>
<rect x="271" y="378.5" width="13.5" height="13" fill="#1b3a6e" />
<text x="290" y="390.8" font-family="'Liberation Sans', sans-serif" font-size="13" fill="#555555" font-weight="normal" text-anchor="start" textLength="31.5" lengthAdjust="spacingAndGlyphs" >2026</text>
<rect x="331" y="378.5" width="13.5" height="13" fill="#2f9a46" />
<text x="350" y="390.8" font-family="'Liberation Sans', sans-serif" font-size="13" fill="#555555" font-weight="normal" text-anchor="start" textLength="31.5" lengthAdjust="spacingAndGlyphs" >2025</text>
<rect x="391" y="378.5" width="13.5" height="13" fill="#f9b56e" />
<text x="410" y="390.8" font-family="'Liberation Sans', sans-serif" font-size="13" fill="#555555" font-weight="normal" text-anchor="start" textLength="31.5" lengthAdjust="spacingAndGlyphs" >2024</text>
<defs><clipPath id="indclip"><rect x="540" y="368" width="300" height="201"/></clipPath></defs><g clip-path="url(#indclip)">
<text x="740.4" y="380.6" font-family="'Liberation Sans', sans-serif" font-size="12.2" fill="#444444" font-weight="normal" text-anchor="end" textLength="37.8" lengthAdjust="spacingAndGlyphs" >Mining</text>
<rect x="745.8" y="372.2" width="1.2" height="7.6" fill="#a6de9c" />
<text x="740.4" y="391.63" font-family="'Liberation Sans', sans-serif" font-size="12.2" fill="#444444" font-weight="normal" text-anchor="end" textLength="72.3" lengthAdjust="spacingAndGlyphs" >Construction</text>
<rect x="745.8" y="383.22999999999996" width="66.2" height="7.6" fill="#236b3c" />
<text x="816.6" y="391.63" font-family="'Liberation Sans', sans-serif" font-size="12.4" fill="#333333" font-weight="normal" text-anchor="start" >20</text>
<text x="740.4" y="402.66" font-family="'Liberation Sans', sans-serif" font-size="12.2" fill="#444444" font-weight="normal" text-anchor="end" textLength="83.7" lengthAdjust="spacingAndGlyphs" >Manufacturing</text>
<rect x="745.8" y="394.26" width="3.3" height="7.6" fill="#a6de9c" />
<text x="740.4" y="413.69" font-family="'Liberation Sans', sans-serif" font-size="12.2" fill="#444444" font-weight="normal" text-anchor="end" textLength="93.6" lengthAdjust="spacingAndGlyphs" >Wholesale Trade</text>
<rect x="745.8" y="405.28999999999996" width="3.3" height="7.6" fill="#a6de9c" />
<text x="740.4" y="424.72" font-family="'Liberation Sans', sans-serif" font-size="12.2" fill="#444444" font-weight="normal" text-anchor="end" textLength="68.1" lengthAdjust="spacingAndGlyphs" >Retail Trade</text>
<rect x="745.8" y="416.32" width="46.3" height="7.6" fill="#3d8c4b" />
<text x="796.74" y="424.72" font-family="'Liberation Sans', sans-serif" font-size="12.4" fill="#333333" font-weight="normal" text-anchor="start" >14</text>
<text x="740.4" y="435.75" font-family="'Liberation Sans', sans-serif" font-size="12.2" fill="#444444" font-weight="normal" text-anchor="end" textLength="179.6" lengthAdjust="spacingAndGlyphs" >Transportation and Warehousi..</text>
<rect x="745.8" y="427.34999999999997" width="3.3" height="7.6" fill="#a6de9c" />
<text x="740.4" y="446.78000000000003" font-family="'Liberation Sans', sans-serif" font-size="12.2" fill="#444444" font-weight="normal" text-anchor="end" textLength="45.4" lengthAdjust="spacingAndGlyphs" >Utilities</text>
<rect x="745.8" y="438.38" width="1.2" height="7.6" fill="#a6de9c" />
<text x="751.6" y="446.78000000000003" font-family="'Liberation Sans', sans-serif" font-size="12.4" fill="#333333" font-weight="normal" text-anchor="start" >0</text>
<text x="740.4" y="457.81" font-family="'Liberation Sans', sans-serif" font-size="12.2" fill="#444444" font-weight="normal" text-anchor="end" textLength="66.5" lengthAdjust="spacingAndGlyphs" >Information</text>
<rect x="745.8" y="449.40999999999997" width="1.2" height="7.6" fill="#a6de9c" />
<text x="740.4" y="468.84000000000003" font-family="'Liberation Sans', sans-serif" font-size="12.2" fill="#444444" font-weight="normal" text-anchor="end" textLength="106.0" lengthAdjust="spacingAndGlyphs" >Financial Activities</text>
<rect x="745.8" y="460.44" width="3.3" height="7.6" fill="#a6de9c" />
<text x="740.4" y="479.87" font-family="'Liberation Sans', sans-serif" font-size="12.2" fill="#444444" font-weight="normal" text-anchor="end" textLength="175.0" lengthAdjust="spacingAndGlyphs" >Professional/Business Services</text>
<rect x="745.8" y="471.46999999999997" width="36.4" height="7.6" fill="#58a05a" />
<text x="786.81" y="479.87" font-family="'Liberation Sans', sans-serif" font-size="12.4" fill="#333333" font-weight="normal" text-anchor="start" >11</text>
<text x="740.4" y="490.90000000000003" font-family="'Liberation Sans', sans-serif" font-size="12.2" fill="#444444" font-weight="normal" text-anchor="end" textLength="180.8" lengthAdjust="spacingAndGlyphs" >Education/Health/Social Servic..</text>
<rect x="745.8" y="482.5" width="3.3" height="7.6" fill="#a6de9c" />
<text x="740.4" y="501.93" font-family="'Liberation Sans', sans-serif" font-size="12.2" fill="#444444" font-weight="normal" text-anchor="end" textLength="158.3" lengthAdjust="spacingAndGlyphs" >Leisure/Hospitality Services</text>
<rect x="745.8" y="493.53" width="6.6" height="7.6" fill="#8fd38a" />
<text x="757.02" y="501.93" font-family="'Liberation Sans', sans-serif" font-size="12.4" fill="#333333" font-weight="normal" text-anchor="start" >2</text>
<text x="740.4" y="512.96" font-family="'Liberation Sans', sans-serif" font-size="12.2" fill="#444444" font-weight="normal" text-anchor="end" textLength="82.1" lengthAdjust="spacingAndGlyphs" >Other Services</text>
<rect x="745.8" y="504.56" width="6.6" height="7.6" fill="#8fd38a" />
<text x="740.4" y="523.99" font-family="'Liberation Sans', sans-serif" font-size="12.2" fill="#444444" font-weight="normal" text-anchor="end" textLength="122.0" lengthAdjust="spacingAndGlyphs" >Public Administration</text>
<rect x="745.8" y="515.59" width="1.2" height="7.6" fill="#a6de9c" />
<text x="751.6" y="523.99" font-family="'Liberation Sans', sans-serif" font-size="12.4" fill="#333333" font-weight="normal" text-anchor="start" >0</text>
<text x="740.4" y="535.02" font-family="'Liberation Sans', sans-serif" font-size="12.2" fill="#444444" font-weight="normal" text-anchor="end" textLength="97.9" lengthAdjust="spacingAndGlyphs" >Federal Employer</text>
<rect x="745.8" y="526.62" width="6.6" height="7.6" fill="#8fd38a" />
<text x="740.4" y="546.0500000000001" font-family="'Liberation Sans', sans-serif" font-size="12.2" fill="#444444" font-weight="normal" text-anchor="end" textLength="44.0" lengthAdjust="spacingAndGlyphs" >Military</text>
<rect x="745.8" y="537.6500000000001" width="1.2" height="7.6" fill="#a6de9c" />
<text x="740.4" y="557.08" font-family="'Liberation Sans', sans-serif" font-size="12.2" fill="#444444" font-weight="normal" text-anchor="end" textLength="32.1" lengthAdjust="spacingAndGlyphs" >Other</text>
<rect x="745.8" y="548.6800000000001" width="26.5" height="7.6" fill="#6db367" />
<text x="776.88" y="557.08" font-family="'Liberation Sans', sans-serif" font-size="12.4" fill="#333333" font-weight="normal" text-anchor="start" >8</text>
<text x="740.4" y="568.11" font-family="'Liberation Sans', sans-serif" font-size="12.2" fill="#444444" font-weight="normal" text-anchor="end" textLength="161.3" lengthAdjust="spacingAndGlyphs" >Agriculture/Forestry/Fishing</text>
<rect x="745.8" y="559.71" width="1.2" height="7.6" fill="#a6de9c" />
</g>
<text x="22.6" y="601.6" font-family="'Liberation Sans', sans-serif" font-size="24.2" fill="#333333" font-weight="bold" text-anchor="start" textLength="254.4" lengthAdjust="spacingAndGlyphs" >Average Monthly Wage*</text>
<text x="295.3" y="601.2" font-family="'Liberation Sans', sans-serif" font-size="20.5" fill="#1a3a7a" font-weight="normal" text-anchor="start" textLength="180.7" lengthAdjust="spacingAndGlyphs" >Third Quarter 2025</text>
<text x="241.8" y="634.8000000000001" font-family="'Liberation Sans', sans-serif" font-size="13.2" fill="#383838" font-weight="normal" text-anchor="end" textLength="30.0" lengthAdjust="spacingAndGlyphs" >Total</text>
<rect x="248.1" y="622.4" width="52.9" height="11.3" fill="#5b8cbd" />
<text x="305.3" y="636.2" font-family="'Liberation Sans', sans-serif" font-size="13.2" fill="#333333" font-weight="normal" text-anchor="start" textLength="38.7" lengthAdjust="spacingAndGlyphs" >$4,110</text>
<text x="241.8" y="650.5500000000001" font-family="'Liberation Sans', sans-serif" font-size="13.2" fill="#383838" font-weight="normal" text-anchor="end" textLength="40.3" lengthAdjust="spacingAndGlyphs" >Mining</text>
<rect x="248.1" y="638.2" width="40.9" height="11.3" fill="#7aaad6" />
<text x="241.8" y="666.3000000000001" font-family="'Liberation Sans', sans-serif" font-size="13.2" fill="#383838" font-weight="normal" text-anchor="end" textLength="78.0" lengthAdjust="spacingAndGlyphs" >Construction</text>
<rect x="248.1" y="653.9" width="67.9" height="11.3" fill="#3a6899" />
<text x="320.7" y="665.2" font-family="'Liberation Sans', sans-serif" font-size="13.2" fill="#333333" font-weight="normal" text-anchor="start" textLength="38.1" lengthAdjust="spacingAndGlyphs" >$5,250</text>
<text x="241.8" y="682.0500000000001" font-family="'Liberation Sans', sans-serif" font-size="13.2" fill="#383838" font-weight="normal" text-anchor="end" textLength="89.4" lengthAdjust="spacingAndGlyphs" >Manufacturing</text>
<rect x="248.1" y="669.7" width="69.9" height="11.3" fill="#3a6899" />
<text x="241.8" y="697.8000000000001" font-family="'Liberation Sans', sans-serif" font-size="13.2" fill="#383838" font-weight="normal" text-anchor="end" textLength="215.3" lengthAdjust="spacingAndGlyphs" >Trade, Transportation, and Utilities</text>
<rect x="248.1" y="685.4" width="45.7" height="11.3" fill="#6fa1cd" />
<text x="241.8" y="713.5500000000001" font-family="'Liberation Sans', sans-serif" font-size="13.2" fill="#383838" font-weight="normal" text-anchor="end" textLength="71.8" lengthAdjust="spacingAndGlyphs" >Information</text>
<rect x="248.1" y="701.2" width="74.7" height="11.3" fill="#2b5686" />
<text x="327.5" y="712.45" font-family="'Liberation Sans', sans-serif" font-size="13.2" fill="#333333" font-weight="normal" text-anchor="start" textLength="38.7" lengthAdjust="spacingAndGlyphs" >$5,800</text>
<text x="241.8" y="729.3000000000001" font-family="'Liberation Sans', sans-serif" font-size="13.2" fill="#383838" font-weight="normal" text-anchor="end" textLength="114.7" lengthAdjust="spacingAndGlyphs" >Financial Activities</text>
<rect x="248.1" y="716.9" width="71.8" height="11.3" fill="#335f90" />
<text x="241.8" y="745.0500000000001" font-family="'Liberation Sans', sans-serif" font-size="13.2" fill="#383838" font-weight="normal" text-anchor="end" textLength="212.4" lengthAdjust="spacingAndGlyphs" >Professional and Business Services</text>
<rect x="248.1" y="732.7" width="52.9" height="11.3" fill="#5b8cbd" />
<text x="305.3" y="743.95" font-family="'Liberation Sans', sans-serif" font-size="13.2" fill="#333333" font-weight="normal" text-anchor="start" textLength="38.7" lengthAdjust="spacingAndGlyphs" >$4,060</text>
<text x="241.8" y="760.8000000000001" font-family="'Liberation Sans', sans-serif" font-size="13.2" fill="#383838" font-weight="normal" text-anchor="end" textLength="231.5" lengthAdjust="spacingAndGlyphs" >Educational, Health and Social Servic..</text>
<rect x="248.1" y="748.4" width="45.7" height="11.3" fill="#6fa1cd" />
<text x="241.8" y="776.5500000000001" font-family="'Liberation Sans', sans-serif" font-size="13.2" fill="#383838" font-weight="normal" text-anchor="end" textLength="139.4" lengthAdjust="spacingAndGlyphs" >Leisure and Hospitality</text>
<rect x="248.1" y="764.2" width="22.9" height="11.3" fill="#b9dbf0" />
<text x="241.8" y="792.3000000000001" font-family="'Liberation Sans', sans-serif" font-size="13.2" fill="#383838" font-weight="normal" text-anchor="end" textLength="88.3" lengthAdjust="spacingAndGlyphs" >Other Services</text>
<rect x="248.1" y="779.9" width="42.9" height="11.3" fill="#76a8d4" />
<text x="241.8" y="808.0500000000001" font-family="'Liberation Sans', sans-serif" font-size="13.2" fill="#383838" font-weight="normal" text-anchor="end" textLength="74.2" lengthAdjust="spacingAndGlyphs" >Government</text>
<rect x="248.1" y="795.7" width="58.8" height="11.3" fill="#4a7cb0" />
<text x="311.6" y="806.95" font-family="'Liberation Sans', sans-serif" font-size="13.2" fill="#333333" font-weight="normal" text-anchor="start" textLength="38.4" lengthAdjust="spacingAndGlyphs" >$4,550</text>
<text x="243.5" y="823.8000000000001" font-family="'Liberation Sans', sans-serif" font-size="13.2" fill="#383838" font-weight="normal" text-anchor="end" textLength="234.7" lengthAdjust="spacingAndGlyphs" >Covered Ag/Forestry/Fishing/Hunting*</text>
<rect x="248.1" y="811.4" width="53.8" height="11.3" fill="#5588bb" />
<text x="387" y="645.6" font-family="'Liberation Sans', sans-serif" font-size="17.3" fill="#111111" font-weight="normal" text-anchor="start" textLength="224" lengthAdjust="spacingAndGlyphs" >Four-Quarter Moving Average</text>
<rect x="437.4" y="652.5" width="14.8" height="13.3" fill="#1ba8ea" />
<text x="457" y="663.5" font-family="'Liberation Sans', sans-serif" font-size="12.3" fill="#666666" font-weight="normal" text-anchor="start" textLength="75.2" lengthAdjust="spacingAndGlyphs" >State of Utah</text>
<rect x="579" y="652.5" width="14" height="13.3" fill="#f2000f" />
<text x="598" y="663.5" font-family="'Liberation Sans', sans-serif" font-size="12.3" fill="#666666" font-weight="normal" text-anchor="start" textLength="64" lengthAdjust="spacingAndGlyphs" >Iron County</text>
<path d="M428 688 H837.6" stroke="#ececec" stroke-width="1" fill="none" />
<path d="M428 725.1 H837.6" stroke="#ececec" stroke-width="1" fill="none" />
<path d="M428 762.2 H837.6" stroke="#ececec" stroke-width="1" fill="none" />
<path d="M433.4 670 V795" stroke="#eeeeee" stroke-width="1" fill="none" />
<path d="M433.4 795 H837.6" stroke="#e8e8e8" stroke-width="1" fill="none" />
<path d="M463.4 794.3 V797.5" stroke="#dddddd" stroke-width="1" fill="none" />
<path d="M494.2 794.3 V797.5" stroke="#dddddd" stroke-width="1" fill="none" />
<path d="M525.0 794.3 V797.5" stroke="#dddddd" stroke-width="1" fill="none" />
<path d="M555.8 794.3 V797.5" stroke="#dddddd" stroke-width="1" fill="none" />
<path d="M586.6 794.3 V797.5" stroke="#dddddd" stroke-width="1" fill="none" />
<path d="M617.4 794.3 V797.5" stroke="#dddddd" stroke-width="1" fill="none" />
<path d="M648.2 794.3 V797.5" stroke="#dddddd" stroke-width="1" fill="none" />
<path d="M679.0 794.3 V797.5" stroke="#dddddd" stroke-width="1" fill="none" />
<path d="M709.8 794.3 V797.5" stroke="#dddddd" stroke-width="1" fill="none" />
<path d="M740.6 794.3 V797.5" stroke="#dddddd" stroke-width="1" fill="none" />
<path d="M771.4 794.3 V797.5" stroke="#dddddd" stroke-width="1" fill="none" />
<path d="M802.2 794.3 V797.5" stroke="#dddddd" stroke-width="1" fill="none" />
<path d="M833.0 794.3 V797.5" stroke="#dddddd" stroke-width="1" fill="none" />
<text x="425.3" y="692.8" font-family="'Liberation Sans', sans-serif" font-size="13.2" fill="#222222" font-weight="normal" text-anchor="end" textLength="42.9" lengthAdjust="spacingAndGlyphs" >$5,000</text>
<text x="425.3" y="729.9" font-family="'Liberation Sans', sans-serif" font-size="13.2" fill="#222222" font-weight="normal" text-anchor="end" textLength="42.9" lengthAdjust="spacingAndGlyphs" >$4,000</text>
<text x="425.3" y="767.0" font-family="'Liberation Sans', sans-serif" font-size="13.2" fill="#222222" font-weight="normal" text-anchor="end" textLength="42.9" lengthAdjust="spacingAndGlyphs" >$3,000</text>
<text x="494.2" y="816.6" font-family="'Liberation Sans', sans-serif" font-size="13.2" fill="#111111" font-weight="normal" text-anchor="middle" textLength="30" lengthAdjust="spacingAndGlyphs" >2015</text>
<text x="555.8" y="816.6" font-family="'Liberation Sans', sans-serif" font-size="13.2" fill="#111111" font-weight="normal" text-anchor="middle" textLength="30" lengthAdjust="spacingAndGlyphs" >2017</text>
<text x="617.4" y="816.6" font-family="'Liberation Sans', sans-serif" font-size="13.2" fill="#111111" font-weight="normal" text-anchor="middle" textLength="30" lengthAdjust="spacingAndGlyphs" >2019</text>
<text x="679.0" y="816.6" font-family="'Liberation Sans', sans-serif" font-size="13.2" fill="#111111" font-weight="normal" text-anchor="middle" textLength="30" lengthAdjust="spacingAndGlyphs" >2021</text>
<text x="740.6" y="816.6" font-family="'Liberation Sans', sans-serif" font-size="13.2" fill="#111111" font-weight="normal" text-anchor="middle" textLength="30" lengthAdjust="spacingAndGlyphs" >2023</text>
<text x="802.2" y="816.6" font-family="'Liberation Sans', sans-serif" font-size="13.2" fill="#111111" font-weight="normal" text-anchor="middle" textLength="30" lengthAdjust="spacingAndGlyphs" >2025</text>
<path d="M433.4 747.8 L449.7 745.9 L459.6 746.4 L474.4 744.4 L494.2 741.9 L513.9 739.4 L533.7 738.0 L543.6 736.0 L553.5 736.0 L563.4 733.5 L578.2 732.5 L593.0 729.6 L612.8 726.6 L632.5 722.6 L652.3 717.2 L667.1 712.8 L672.1 707.8 L686.9 703.9 L706.6 696.9 L726.4 687.6 L736.3 687.1 L751.1 682.6 L761.0 681.6 L780.8 674.7 L800.5 669.3 L818.8 664.8" stroke="#1ba8ea" stroke-width="1.6" fill="none" stroke-linejoin="round"/>
<path d="M433.4 784.4 L444.8 784.9 L454.6 783.9 L474.4 782.4 L494.2 780.9 L513.9 779.5 L533.7 778.5 L553.5 776.5 L573.2 775.5 L593.0 773.5 L612.8 772.0 L632.5 770.1 L647.4 768.1 L662.2 764.1 L677.0 759.2 L691.8 757.2 L706.6 753.8 L721.5 749.3 L736.3 746.8 L751.1 741.9 L770.9 737.0 L790.6 732.0 L800.5 729.6 L818.8 725.6" stroke="#f2000f" stroke-width="2.4" fill="none" stroke-linejoin="round"/>
<text x="19.6" y="860.6" font-family="'Liberation Serif', serif" font-size="25.8" fill="#000000" font-weight="bold" text-anchor="start" textLength="259.9" lengthAdjust="spacingAndGlyphs" xml:space="preserve">Unemployment  &amp;  Wages</text>
<text x="14.6" y="899.2" font-family="'Liberation Sans', sans-serif" font-size="12.5" fill="#1f1f1f" font-weight="normal" text-anchor="start" textLength="617.2" lengthAdjust="spacingAndGlyphs" stroke="#1f1f1f" stroke-width="0.2">Iron County’s unemployment rate stood at 3.4% at the close of 2025, closely following the state’s overall rate.</text>
<text x="14.6" y="935.1" font-family="'Liberation Sans', sans-serif" font-size="12.5" fill="#1f1f1f" font-weight="normal" text-anchor="start" textLength="734.8" lengthAdjust="spacingAndGlyphs" stroke="#1f1f1f" stroke-width="0.2">Over the last 12 months, Iron County has averaged 20.6 new unemployment claims per week, a 5.4% increase from the year before.</text>
<text x="14.6" y="970.9" font-family="'Liberation Sans', sans-serif" font-size="12.5" fill="#1f1f1f" font-weight="normal" text-anchor="start" textLength="626.8" lengthAdjust="spacingAndGlyphs" stroke="#1f1f1f" stroke-width="0.2">The construction industry accounted for more unemployment claims than any other sector in the local economy.</text>
<text x="14.6" y="1006.8" font-family="'Liberation Sans', sans-serif" font-size="12.5" fill="#1f1f1f" font-weight="normal" text-anchor="start" textLength="500.6" lengthAdjust="spacingAndGlyphs" stroke="#1f1f1f" stroke-width="0.2">Iron County’s average monthly wage sits at $4,110, following an annual increase of 3.8%.</text>
<text x="14.6" y="1042.6" font-family="'Liberation Sans', sans-serif" font-size="12.5" fill="#1f1f1f" font-weight="normal" text-anchor="start" textLength="605.2" lengthAdjust="spacingAndGlyphs" stroke="#1f1f1f" stroke-width="0.2">Wages in the information and construction sectors led the growth, increasing by 23% and 17% respectively.</text>
<g fill="#52a352"><circle cx="824.6" cy="886.3" r="1.6"/><rect x="821.1" y="888.5" width="1.45" height="7.3" rx="0.5"/><path d="M822.8 888.5 H826.9 V903.3 H825.1 V897.6 H824.4 V903.3 H822.8 Z"/><path d="M826.9 888.5 L827.7 888.8 L829.2 895.2 L828.3 895.9 L826.9 891.5 Z"/></g>
<g><rect x="816" y="924" width="17.9" height="11.4" fill="#2d5a8a"/><path d="M816.6 925.2 L823.2 929.6 Q824.95 930.9 826.7 929.6 L833.3 925.2 M816.9 934.9 L822.4 929.5 M833 934.9 L827.5 929.5" stroke="#ffffff" stroke-width="0.9" fill="none"/><path d="M816 924.6 H833.9" stroke="#ffffff" stroke-width="0.6" stroke-opacity="0.5"/></g>
<g><rect x="816" y="960.1" width="17.9" height="11.4" fill="#2d5a8a"/><path d="M816.6 961.3000000000001 L823.2 965.7 Q824.95 967.0 826.7 965.7 L833.3 961.3000000000001 M816.9 971.0 L822.4 965.6 M833 971.0 L827.5 965.6" stroke="#ffffff" stroke-width="0.9" fill="none"/><path d="M816 960.7 H833.9" stroke="#ffffff" stroke-width="0.6" stroke-opacity="0.5"/></g>
<g transform="translate(0,0)"><path d="M830.2 997.6 C829.5 995.8 827.8 995.2 825.4 995.2 C822.6 995.2 821 996.6 821 998.6 C821 1000.8 823 1001.5 825.4 1002.1 C828 1002.7 830 1003.6 830 1005.8 C830 1008 828.2 1009.1 825.4 1009.1 C822.8 1009.1 821 1008 820.5 1006.2 M825.4 992.4 V1011.6" stroke="#3a89ad" stroke-width="1.6" fill="none"/></g>
<g transform="translate(0,36)"><path d="M830.2 997.6 C829.5 995.8 827.8 995.2 825.4 995.2 C822.6 995.2 821 996.6 821 998.6 C821 1000.8 823 1001.5 825.4 1002.1 C828 1002.7 830 1003.6 830 1005.8 C830 1008 828.2 1009.1 825.4 1009.1 C822.8 1009.1 821 1008 820.5 1006.2 M825.4 992.4 V1011.6" stroke="#3a89ad" stroke-width="1.6" fill="none"/></g>
<text x="8.2" y="1083" font-family="'Liberation Sans', sans-serif" font-size="11.1" fill="#888888" font-weight="normal" text-anchor="start" textLength="715.3" lengthAdjust="spacingAndGlyphs" xml:space="preserve">*Preliminary.  Source: U.S. Bureau of Labor Statistics and Utah Dept of Workforce Services. Updated February 2026, next update May 2026.</text>
<text x="55.8" y="1117.6" font-family="'Liberation Sans', sans-serif" font-size="12.4" fill="#555555" font-weight="bold" text-anchor="start" textLength="132.7" lengthAdjust="spacingAndGlyphs" >View on Tableau Public</text>
<path d="M38.3 1113.3 H44.7 M41.5 1110.1 V1116.5 M35.0 1109.4 H39.8 M37.4 1107.0 V1111.8000000000002 M43.2 1109.4 H48.0 M45.6 1107.0 V1111.8000000000002 M35.0 1117.3 H39.8 M37.4 1114.8999999999999 V1119.7 M43.2 1117.3 H48.0 M45.6 1114.8999999999999 V1119.7 M40.1 1106.2 H42.9 M41.5 1104.8 V1107.6000000000001 M40.1 1120.4 H42.9 M41.5 1119.0 V1121.8000000000002 M33.1 1113.3 H35.9 M34.5 1111.8999999999999 V1114.7 M47.1 1113.3 H49.9 M48.5 1111.8999999999999 V1114.7 " stroke="#333" stroke-width="1.25" fill="none"/>
<text x="783" y="1118.6" font-family="'Liberation Sans', sans-serif" font-size="13.4" fill="#6e6e6e" font-weight="bold" text-anchor="start" textLength="33.6" lengthAdjust="spacingAndGlyphs" >Share</text>
<g fill="none" stroke-width="1.3" stroke-linecap="round"><path d="M472 1107 L470 1109.3 L472 1111.6 M470.5 1109.3 H480 A5.8 5.8 0 0 1 480 1121 H471" stroke="#c8c8c8"/><path d="M524 1107 L526 1109.3 L524 1111.6 M525.5 1109.3 H516 A5.8 5.8 0 0 0 516 1121 H525" stroke="#c8c8c8"/><path d="M550.7 1106 V1111.5 M553.5 1106.8 L551.5 1108.8 L553.5 1110.8 M552 1108.8 H560 A5.8 5.8 0 0 1 560 1120.6 H553" stroke="#555"/><path d="M598 1107.6 L600.5 1109.8 L598 1112 M600 1109.8 H590 A3.2 3.2 0 0 0 590 1116.2 H598.5 A3.2 3.2 0 0 0 601.5 1113.5" stroke="#c8c8c8"/><path d="M645.6 1108 V1119" stroke="#cccccc" stroke-width="1"/><path d="M677 1116.3 H672.5 V1107.2 H687 V1116.3 H682.5 M679.7 1111.5 V1121.5 M677.5 1119.3 L679.7 1121.5 L681.9 1119.3" stroke="#555" stroke-width="1.2"/><path d="M723.5 1110 V1106.3 H727.2 M735 1106.3 H738.6 V1110 M738.6 1117.5 V1121.2 H735 M727.2 1121.2 H723.5 V1117.5" stroke="#555" stroke-width="1.2"/><rect x="726.6" y="1109.4" width="8.8" height="8.8" stroke="#555" stroke-width="1.2"/><circle cx="773.2" cy="1108.8" r="2.3" stroke="#555" stroke-width="1.2"/><circle cx="763.8" cy="1114" r="2.3" stroke="#555" stroke-width="1.2"/><circle cx="773.2" cy="1119.2" r="2.3" stroke="#555" stroke-width="1.2"/><path d="M765.8 1112.9 L771.2 1109.9 M765.8 1115.1 L771.2 1118.1" stroke="#555" stroke-width="1.2"/></g>
<path d="M616.3 1112 L623.5 1112 L619.9 1116 Z" stroke="none" stroke-width="0" fill="#c0c0c0" />
<path d="M692.5 1112 L700 1112 L696.25 1116.3 Z" stroke="none" stroke-width="0" fill="#555555" />
</svg>
</body></html>
